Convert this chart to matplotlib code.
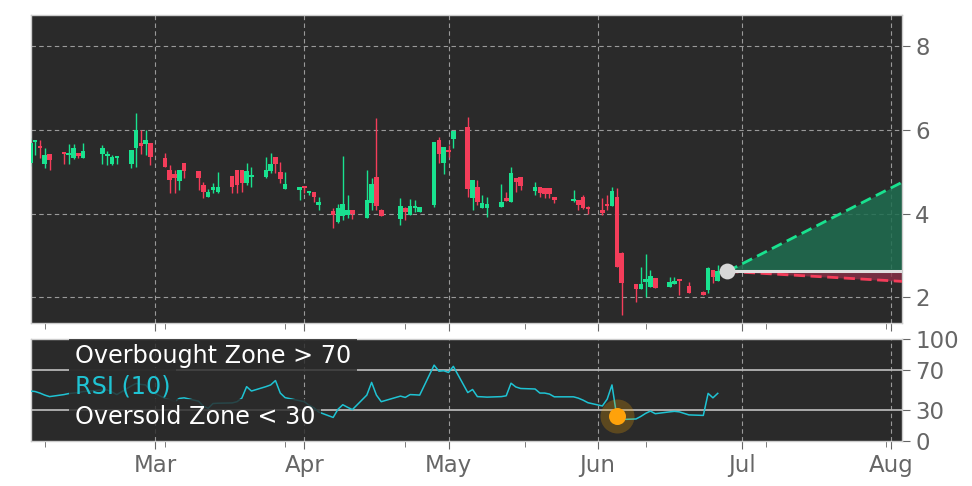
import matplotlib
matplotlib.use("Agg")
import matplotlib.pyplot as plt
import matplotlib.dates as mdates
import numpy as np
import pandas as pd

# ---------------------------------------------------------------- data
dates = ["2025-02-03", "2025-02-04", "2025-02-05", "2025-02-06", "2025-02-07",
         "2025-02-10", "2025-02-11", "2025-02-12", "2025-02-13", "2025-02-14",
         "2025-02-18", "2025-02-19", "2025-02-20", "2025-02-21",
         "2025-02-24", "2025-02-25", "2025-02-26", "2025-02-27", "2025-02-28",
         "2025-03-03", "2025-03-04", "2025-03-05", "2025-03-06", "2025-03-07",
         "2025-03-10", "2025-03-11", "2025-03-12", "2025-03-13", "2025-03-14",
         "2025-03-17", "2025-03-18", "2025-03-19", "2025-03-20", "2025-03-21",
         "2025-03-24", "2025-03-25", "2025-03-26", "2025-03-27", "2025-03-28",
         "2025-03-31", "2025-04-01", "2025-04-02", "2025-04-03", "2025-04-04",
         "2025-04-07", "2025-04-08", "2025-04-09", "2025-04-10", "2025-04-11",
         "2025-04-14", "2025-04-15", "2025-04-16", "2025-04-17",
         "2025-04-21", "2025-04-22", "2025-04-23", "2025-04-24", "2025-04-25",
         "2025-04-28", "2025-04-29", "2025-04-30", "2025-05-01", "2025-05-02",
         "2025-05-05", "2025-05-06", "2025-05-07", "2025-05-08", "2025-05-09",
         "2025-05-12", "2025-05-13", "2025-05-14", "2025-05-15", "2025-05-16",
         "2025-05-19", "2025-05-20", "2025-05-21", "2025-05-22", "2025-05-23",
         "2025-05-27", "2025-05-28", "2025-05-29", "2025-05-30",
         "2025-06-02", "2025-06-03", "2025-06-04", "2025-06-05", "2025-06-06",
         "2025-06-09", "2025-06-10", "2025-06-11", "2025-06-12", "2025-06-13",
         "2025-06-16", "2025-06-17", "2025-06-18", "2025-06-20",
         "2025-06-23", "2025-06-24", "2025-06-25", "2025-06-26"]

opens = [5.20, 5.71, 5.62, 5.18, 5.42, 5.46, 5.40, 5.33, 5.42, 5.33,
         5.42, 5.37, 5.18, 5.33, 5.18, 5.56, 5.68, 5.66, 5.68,
         5.33, 5.04, 4.94, 4.78, 5.20, 5.01, 4.68, 4.39, 4.56, 4.51,
         4.90, 5.04, 5.04, 4.73, 4.87, 4.87, 5.01, 5.35, 4.99, 4.58,
         4.56, 4.65, 4.49, 4.51, 4.20, 4.06, 3.80, 3.94, 3.96, 4.08,
         3.89, 4.25, 4.87, 4.08, 3.87, 4.13, 3.96, 4.13, 4.04,
         4.20, 5.75, 5.20, 5.52, 5.78, 6.07, 4.37, 4.63, 4.13, 4.13,
         4.15, 4.37, 4.27, 4.85, 4.87, 4.54, 4.63, 4.61, 4.61, 4.39,
         4.31, 4.32, 4.39, 4.15, 4.08, 4.22, 4.18, 4.39, 3.05,
         2.31, 2.19, 2.36, 2.24, 2.45, 2.24, 2.31, 2.40, 2.26,
         2.12, 2.17, 2.65, 2.38]
highs = [5.80, 5.76, 5.75, 5.56, 5.42, 5.46, 5.66, 5.66, 5.45, 5.68,
         5.64, 5.49, 5.40, 5.37, 5.52, 6.40, 6.00, 6.00, 5.68,
         5.45, 5.16, 5.04, 5.04, 5.20, 5.01, 4.75, 4.60, 4.73, 4.99,
         4.90, 5.04, 5.04, 5.20, 5.11, 5.35, 5.45, 5.35, 5.23, 4.99,
         4.63, 4.66, 4.55, 4.51, 4.39, 4.13, 4.22, 5.37, 4.44, 4.08,
         5.04, 4.85, 6.28, 4.10, 4.37, 4.15, 4.34, 4.32, 4.16,
         5.71, 5.83, 5.59, 5.64, 5.97, 6.31, 4.80, 4.80, 4.44, 4.39,
         4.70, 4.51, 5.11, 4.85, 4.87, 4.75, 4.63, 4.61, 4.61, 4.39,
         4.56, 4.32, 4.44, 4.18, 4.37, 4.44, 4.63, 4.61, 3.08,
         2.31, 2.72, 3.03, 2.65, 2.47, 2.48, 2.48, 2.41, 2.36,
         2.16, 2.72, 2.65, 2.77]
lows = [5.15, 5.40, 5.33, 5.09, 5.04, 5.18, 5.18, 5.31, 5.33, 5.33,
        5.18, 5.16, 5.16, 5.18, 5.09, 5.11, 5.42, 5.40, 5.16,
        5.11, 4.49, 4.50, 4.56, 4.85, 4.56, 4.37, 4.39, 4.49, 4.49,
        4.49, 4.49, 4.51, 4.68, 4.63, 4.85, 4.97, 4.97, 4.73, 4.58,
        4.32, 4.50, 4.44, 4.27, 4.08, 3.65, 3.77, 3.84, 3.89, 3.87,
        3.89, 4.08, 4.08, 3.94, 3.72, 3.84, 3.96, 4.04, 4.03,
        4.15, 5.20, 4.94, 5.35, 5.56, 4.39, 4.08, 4.20, 4.13, 3.91,
        4.15, 4.30, 4.27, 4.51, 4.56, 4.44, 4.39, 4.37, 4.37, 4.25,
        4.29, 4.08, 4.10, 3.99, 3.96, 4.08, 4.18, 2.72, 1.57,
        1.88, 2.19, 2.00, 2.24, 2.22, 2.24, 2.31, 2.05, 2.10,
        2.05, 2.10, 2.33, 2.38]
closes = [5.70, 5.75, 5.58, 5.40, 5.28, 5.42, 5.44, 5.56, 5.39, 5.50,
          5.56, 5.42, 5.35, 5.36, 5.52, 6.00, 5.61, 5.75, 5.35,
          5.11, 4.80, 4.85, 5.04, 5.01, 4.85, 4.51, 4.51, 4.63, 4.63,
          4.63, 4.68, 4.73, 5.01, 4.92, 5.04, 5.18, 5.18, 4.82, 4.70,
          4.63, 4.62, 4.51, 4.39, 4.27, 3.96, 4.13, 4.22, 4.08, 3.99,
          4.32, 4.70, 4.18, 3.94, 4.18, 4.04, 4.18, 4.15, 4.15,
          5.71, 5.42, 5.59, 5.47, 5.97, 4.58, 4.80, 4.27, 4.25, 4.22,
          4.27, 4.30, 4.97, 4.75, 4.66, 4.63, 4.49, 4.46, 4.46, 4.32,
          4.33, 4.20, 4.13, 4.10, 4.01, 4.18, 4.54, 2.72, 2.33,
          2.19, 2.31, 2.43, 2.50, 2.22, 2.36, 2.38, 2.38, 2.10,
          2.05, 2.69, 2.48, 2.62]
rsi = [49.0, 48.5, 47.0, 45.0, 43.5, 45.5, 46.5, 47.0, 47.5, 48.5,
       50.0, 50.0, 48.0, 45.5, 54.0, 56.5, 55.5, 55.0, 49.0,
       41.7, 40.5, 38.5, 41.7, 42.3, 39.0, 34.0, 32.0, 36.7, 37.0,
       37.3, 38.5, 42.0, 53.3, 49.0, 53.3, 55.0, 59.3, 47.0, 42.5,
       39.5, 38.5, 35.0, 32.5, 28.3, 23.0, 31.0, 35.5, 33.0, 30.7,
       45.0, 57.5, 45.0, 38.5, 44.0, 42.7, 45.5, 45.3, 45.0,
       74.5, 68.5, 69.0, 67.3, 73.3, 47.5, 50.5, 43.5, 43.3, 43.0,
       43.5, 44.3, 56.7, 53.0, 51.5, 51.0, 47.0, 47.0, 46.0, 43.3,
       43.3, 42.0, 40.0, 37.5, 34.3, 41.0, 55.0, 24.0, 21.0,
       21.5, 24.0, 27.0, 29.3, 26.7, 28.5, 29.0, 28.5, 25.5,
       25.0, 46.7, 42.3, 46.7]

# forecast cone
fc_start_date, fc_start_price = "2025-06-28", 2.62
fc_end_date = "2025-08-03 08:00"
fc_upper, fc_lower = 4.75, 2.38
# oversold signal
signal_date, signal_rsi = "2025-06-05", 24.0

# ---------------------------------------------------------------- style
BG = "#2a2a2a"
GREEN = "#19e28f"
RED = "#f43d5a"
CYAN = "#1fc3d3"
TICK = "#666666"
GRID = dict(color="#9a9a9a", linestyle=(0, (4, 3)), linewidth=0.8)

d = mdates.date2num(pd.to_datetime(dates))
o, h, l, c = map(np.array, (opens, highs, lows, closes))
up = c >= o

fig = plt.figure(figsize=(9.72, 4.86), dpi=100, facecolor="white")
ax1 = fig.add_axes([0.032, 0.335, 0.896, 0.634], facecolor=BG)
ax2 = fig.add_axes([0.032, 0.093, 0.896, 0.209], facecolor=BG, sharex=ax1)

# candles
cols = np.where(up, GREEN, RED)
ax1.vlines(d, l, h, colors=cols, lw=1.0, zorder=3)
body_lo = np.minimum(o, c)
body_h = np.maximum(np.abs(c - o), 0.05)
ax1.bar(d, body_h, bottom=body_lo, width=0.95, color=cols, lw=0, zorder=4)

# forecast cone
x0 = mdates.date2num(pd.Timestamp(fc_start_date))
x1 = mdates.date2num(pd.Timestamp(fc_end_date))
ax1.fill_between([x0, x1], [fc_start_price, fc_start_price], [fc_start_price, fc_upper],
                 color="#1f6e50", alpha=0.85, lw=0, zorder=2)
ax1.fill_between([x0, x1], [fc_start_price, fc_lower], [fc_start_price, fc_start_price],
                 color="#8a3048", alpha=0.8, lw=0, zorder=2)
ax1.plot([x0, x1], [fc_start_price, fc_upper], color=GREEN, lw=2, ls=(0, (4, 2)), zorder=5)
ax1.plot([x0, x1], [fc_start_price, fc_lower], color=RED, lw=2, ls=(0, (4, 2)), zorder=5)
ax1.plot([x0, x1], [fc_start_price, fc_start_price], color="#e0e0e0", lw=2.2, zorder=5)
ax1.scatter([x0], [fc_start_price], s=130, color="#d8d8d8", zorder=6, lw=0)

ax1.set_ylim(1.38, 8.75)
ax1.set_yticks([2, 4, 6, 8])
ax1.set_xlim(mdates.date2num(pd.Timestamp("2025-02-03 04:00")), x1)

# RSI panel
ax2.plot(d, rsi, color=CYAN, lw=1.1, zorder=3)
ax2.axhline(70, color="#b5b5b5", lw=1.3, zorder=2)
ax2.axhline(30, color="#b5b5b5", lw=1.3, zorder=2)
xs = mdates.date2num(pd.Timestamp(signal_date))
ax2.scatter([xs], [signal_rsi], s=600, color="#f5a300", alpha=0.25, lw=0, zorder=4)
ax2.scatter([xs], [signal_rsi], s=150, color="#ffa20a", lw=0, zorder=5)
ax2.set_ylim(0, 100)
ax2.set_yticks([0, 30, 70, 100])

box = dict(boxstyle="square,pad=0.25", fc=BG, ec="none", alpha=0.82)
ax2.text(0.05, 0.83, "Overbought Zone > 70", transform=ax2.transAxes, fontsize=17.2,
         color="white", va="center", bbox=box, zorder=6)
ax2.text(0.05, 0.535, "RSI (10)", transform=ax2.transAxes, fontsize=17.2,
         color=CYAN, va="center", bbox=box, zorder=6)
ax2.text(0.05, 0.235, "Oversold Zone < 30", transform=ax2.transAxes, fontsize=17.2,
         color="white", va="center", bbox=box, zorder=6)

# axes cosmetics
minor = mdates.date2num(pd.date_range("2025-02-06", periods=8, freq="25D"))
for ax in (ax1, ax2):
    ax.yaxis.tick_right()
    ax.xaxis.set_major_locator(mdates.MonthLocator())
    ax.xaxis.set_major_formatter(mdates.DateFormatter("%b"))
    ax.set_xticks(minor, minor=True)
    ax.grid(True, axis="x", which="major", **GRID)
    ax.tick_params(axis="both", which="major", labelsize=16.5, colors=TICK, length=6)
    ax.tick_params(axis="x", which="minor", colors=TICK, length=4)
    for s in ax.spines.values():
        s.set_color("#cccccc")
        s.set_linewidth(1.0)
ax1.grid(True, axis="y", **GRID)
ax1.set_axisbelow(True)
ax2.set_axisbelow(True)
ax1.tick_params(axis="x", labelbottom=False)

fig.savefig("out.png", dpi=100, facecolor="white")
